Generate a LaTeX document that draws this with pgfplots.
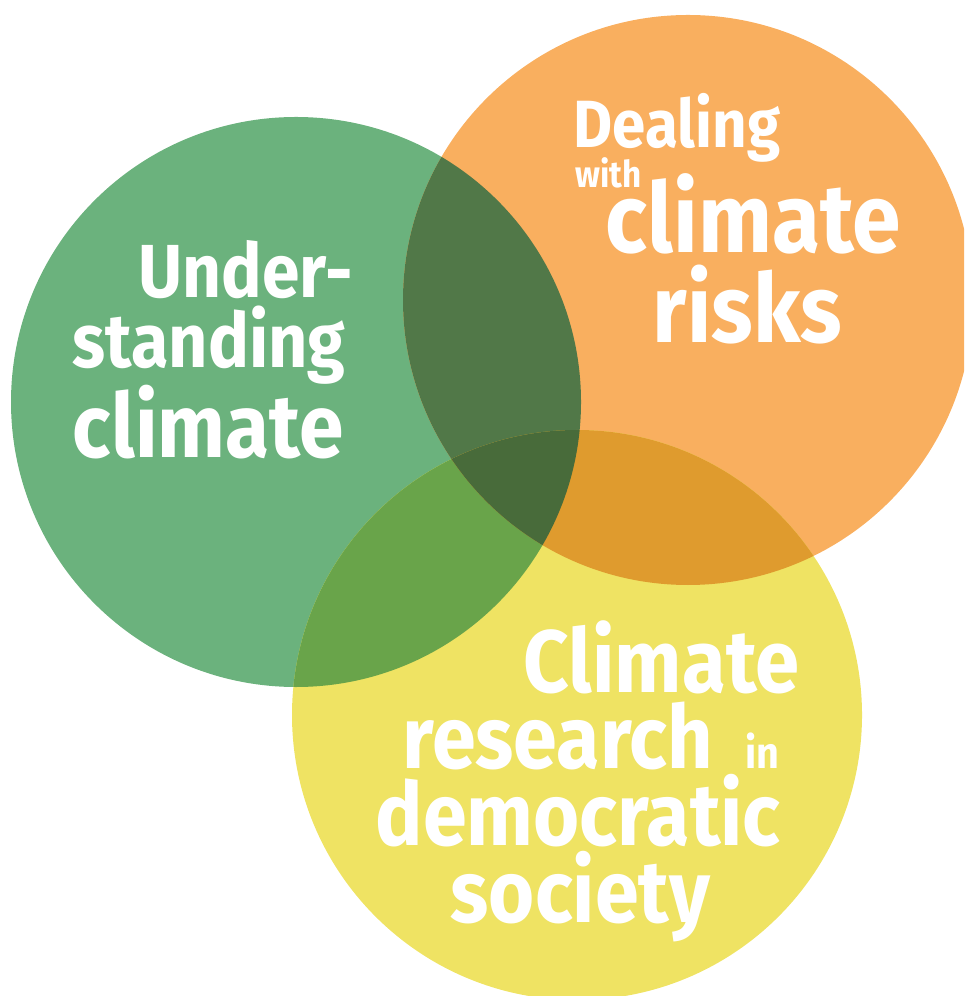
\documentclass[border=0pt]{standalone}
\usepackage{pgfplots}
\pgfplotsset{compat=1.18}
\usepackage{fontspec}
\newfontfamily\vf[FakeStretch=0.9]{Fira Sans}
\definecolor{cG}{HTML}{6BB27D}
\definecolor{cO}{HTML}{F9AF5F}
\definecolor{cY}{HTML}{EFE363}
\definecolor{cGO}{HTML}{517848}
\definecolor{cGY}{HTML}{69A44A}
\definecolor{cOY}{HTML}{DF9B2E}
\definecolor{cGOY}{HTML}{486B3A}
\newcommand{\G}{(axis cs:296,402) circle [radius=285]}
\newcommand{\Or}{(axis cs:688,300) circle [radius=285]}
\newcommand{\Y}{(axis cs:577,715) circle [radius=285]}
\newcommand{\px}[1]{\fontsize{#1}{#1}\selectfont}
\begin{document}
\begin{tikzpicture}
\begin{axis}[width=9.64cm, height=9.96cm, scale only axis,
  xmin=0, xmax=964, ymin=0, ymax=996, y dir=reverse,
  hide axis, clip=true]
\fill[cG] \G;
\fill[cO] \Or;
\fill[cY] \Y;
\begin{scope}\clip \G; \fill[cGO] \Or; \end{scope}
\begin{scope}\clip \G; \fill[cGY] \Y; \end{scope}
\begin{scope}\clip \Or; \fill[cOY] \Y; \end{scope}
\begin{scope}\clip \G; \clip \Or; \fill[cGOY] \Y; \end{scope}
% Green
\node[anchor=base west, inner sep=0, text=white, font=\vf\bfseries\px{21.4pt}] at (axis cs:138,298) {Under-};
\node[anchor=base west, inner sep=0, text=white, font=\vf\bfseries\px{21.6pt}] at (axis cs:72,368) {standing};
\node[anchor=base west, inner sep=0, text=white, font=\vf\bfseries\px{25.4pt}] at (axis cs:72,458) {climate};
% Orange
\node[anchor=base west, inner sep=0, text=white, font=\vf\bfseries\px{19pt}] at (axis cs:573,148) {Dealing};
\node[anchor=base west, inner sep=0, text=white, font=\vf\bfseries\px{10.5pt}] at (axis cs:575,188) {with};
\node[anchor=base west, inner sep=0, text=white, font=\vf\bfseries\px{27.7pt}] at (axis cs:605,253) {climate};
\node[anchor=base west, inner sep=0, text=white, font=\vf\bfseries\px{27.2pt}] at (axis cs:652,343) {risks};
% Yellow
\node[anchor=base west, inner sep=0, text=white, font=\vf\bfseries\px{25.2pt}] at (axis cs:523,692) {Climate};
\node[anchor=base west, inner sep=0, text=white, font=\vf\bfseries\px{25pt}] at (axis cs:402,768) {research};
\node[anchor=base west, inner sep=0, text=white, font=\vf\bfseries\px{12.5pt}] at (axis cs:745,768) {in};
\node[anchor=base west, inner sep=0, text=white, font=\vf\bfseries\px{25pt}] at (axis cs:375,845) {democratic};
\node[anchor=base west, inner sep=0, text=white, font=\vf\bfseries\px{25pt}] at (axis cs:450,922) {society};
\end{axis}
\pgfresetboundingbox
\path (current axis.south west) rectangle (current axis.north east);
\end{tikzpicture}
\end{document}
